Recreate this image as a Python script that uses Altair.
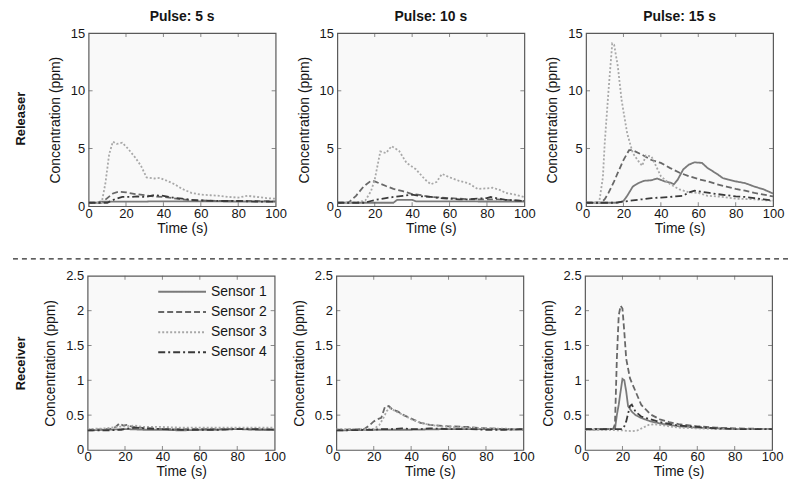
import altair as alt
import pandas as pd

F = "Liberation Sans"
INK = "#151515"
FRAME = "#5a5a5a"

XT = [0, 20, 40, 60, 80, 100]
YT_TOP = [0, 5, 10, 15]
YT_BOT = [0, 0.5, 1, 1.5, 2, 2.5]
SENSORS = ["Sensor 1", "Sensor 2", "Sensor 3", "Sensor 4"]
COLORS = ["#7a7a7a", "#686868", "#a8a8a8", "#3a3a3a"]
DASHES = [[1, 0], [6, 3], [2, 2], [7, 3, 2, 3]]
PULSES = ["Pulse: 5 s", "Pulse: 10 s", "Pulse: 15 s"]
ROWS = ["Releaser", "Receiver"]

# ---------- Releaser, pulse 5 s ----------
R5_S1_T = [0, 5, 6, 30, 35, 100]
R5_S1_C = [0.3, 0.3, 0.4, 0.4, 0.42, 0.4]
R5_S2_T = [0, 7, 10, 13, 16, 20, 25, 30, 35, 40, 45, 50, 55, 60, 70, 80, 90, 100]
R5_S2_C = [0.3, 0.3, 0.7, 1.1, 1.25, 1.2, 1.05, 0.95, 0.85, 0.8, 0.7, 0.6, 0.5, 0.5, 0.45, 0.45, 0.45, 0.42]
R5_S3_T = [0, 7, 9, 11, 13, 15, 18, 21, 25, 28, 31, 35, 38, 42, 46, 50, 55, 60, 65, 70, 75, 80, 85, 90, 95, 100]
R5_S3_C = [0.3, 0.3, 2.0, 4.5, 5.6, 5.4, 5.5, 5.0, 4.2, 3.5, 2.5, 2.4, 2.45, 2.2, 1.9, 1.5, 1.15, 1.0, 0.95, 0.9, 0.8, 0.75, 0.9, 0.8, 0.7, 0.65]
R5_S4_T = [0, 10, 14, 18, 22, 26, 30, 35, 40, 45, 50, 55, 60, 70, 80, 90, 100]
R5_S4_C = [0.3, 0.3, 0.6, 0.8, 0.8, 0.85, 0.8, 0.95, 0.9, 0.75, 0.65, 0.55, 0.5, 0.45, 0.45, 0.4, 0.4]

# ---------- Releaser, pulse 10 s ----------
R10_S1_T = [0, 30, 32, 40, 42, 100]
R10_S1_C = [0.3, 0.3, 0.55, 0.55, 0.42, 0.4]
R10_S2_T = [0, 6, 10, 14, 18, 20, 23, 26, 30, 35, 40, 45, 50, 55, 60, 65, 70, 75, 80, 85, 90, 100]
R10_S2_C = [0.3, 0.3, 0.9, 1.7, 2.2, 2.15, 1.95, 1.75, 1.5, 1.3, 1.05, 0.95, 0.8, 0.75, 0.7, 0.65, 0.6, 0.6, 0.6, 0.6, 0.55, 0.45]
R10_S3_T = [0, 10, 15, 18, 20, 23, 26, 29, 33, 37, 42, 47, 50, 53, 56, 60, 65, 70, 75, 80, 83, 87, 90, 95, 100]
R10_S3_C = [0.3, 0.3, 0.5, 1.3, 2.3, 4.75, 4.6, 5.2, 4.8, 3.75, 3.2, 2.3, 1.9, 2.1, 2.8, 2.5, 2.2, 2.0, 1.5, 1.55, 1.6, 1.4, 1.15, 1.0, 0.8]
R10_S4_T = [0, 15, 18, 22, 26, 30, 35, 40, 45, 50, 55, 60, 65, 70, 75, 80, 82, 85, 90, 100]
R10_S4_C = [0.3, 0.3, 0.45, 0.6, 0.7, 0.8, 0.9, 1.0, 0.85, 0.8, 0.7, 0.65, 0.6, 0.6, 0.65, 0.7, 0.8, 0.7, 0.55, 0.45]

# ---------- Releaser, pulse 15 s ----------
R15_S1_T = [0, 17, 20, 22, 25, 28, 31, 35, 38, 42, 45, 47, 49, 52, 55, 58, 62, 65, 68, 70, 73, 76, 80, 85, 90, 95, 100]
R15_S1_C = [0.3, 0.3, 0.45, 0.9, 1.7, 2.0, 2.2, 2.25, 2.4, 2.15, 2.05, 1.9, 2.3, 3.2, 3.6, 3.8, 3.75, 3.3, 3.0, 2.8, 2.45, 2.3, 2.15, 2.0, 1.7, 1.45, 1.1]
R15_S2_T = [0, 8, 10, 12, 15, 17, 20, 23, 25, 30, 35, 40, 45, 50, 55, 60, 65, 70, 75, 80, 85, 90, 95, 100]
R15_S2_C = [0.3, 0.3, 0.6, 1.15, 2.15, 2.9, 4.0, 4.85, 4.85, 4.45, 4.0, 3.75, 3.3, 2.9, 2.6, 2.35, 2.15, 1.9, 1.7, 1.5, 1.35, 1.15, 1.0, 0.85]
R15_S3_T = [0, 7, 9, 10, 12, 14, 15, 17, 19, 22, 25, 28, 30, 32, 35, 40, 45, 50, 55, 60, 65, 70, 80, 90, 100]
R15_S3_C = [0.3, 0.3, 2.5, 5.5, 10.0, 14.1, 14.0, 12.1, 9.2, 6.3, 4.6, 3.9, 3.5, 4.4, 4.3, 2.6, 1.9, 1.45, 1.2, 1.15, 0.9, 0.85, 0.65, 0.6, 0.45]
R15_S4_T = [0, 15, 20, 25, 30, 35, 40, 45, 48, 52, 55, 58, 62, 66, 70, 75, 80, 85, 90, 95, 100]
R15_S4_C = [0.3, 0.3, 0.4, 0.5, 0.6, 0.7, 0.75, 0.8, 0.85, 0.9, 1.2, 1.35, 1.25, 1.15, 1.05, 0.95, 0.85, 0.8, 0.7, 0.6, 0.5]

# ---------- Receiver, pulse 5 s ----------
C5_S1_T = [0, 10, 20, 30, 40, 50, 60, 70, 80, 90, 100]
C5_S1_C = [0.28, 0.29, 0.30, 0.29, 0.29, 0.28, 0.29, 0.29, 0.30, 0.29, 0.29]
C5_S2_T = [0, 12, 15, 17, 19, 21, 24, 28, 32, 40, 50, 60, 80, 100]
C5_S2_C = [0.29, 0.3, 0.33, 0.38, 0.35, 0.36, 0.33, 0.32, 0.31, 0.3, 0.3, 0.3, 0.3, 0.29]
C5_S3_T = [0, 10, 15, 20, 25, 30, 40, 50, 60, 70, 80, 90, 100]
C5_S3_C = [0.3, 0.31, 0.33, 0.34, 0.35, 0.33, 0.33, 0.32, 0.32, 0.32, 0.32, 0.32, 0.32]
C5_S4_T = [0, 10, 18, 22, 26, 30, 40, 50, 60, 70, 80, 90, 100]
C5_S4_C = [0.28, 0.28, 0.29, 0.31, 0.32, 0.31, 0.3, 0.29, 0.29, 0.29, 0.3, 0.3, 0.29]

# ---------- Receiver, pulse 10 s ----------
C10_S1_T = [0, 20, 40, 60, 80, 100]
C10_S1_C = [0.28, 0.29, 0.29, 0.3, 0.3, 0.29]
C10_S2_T = [0, 15, 18, 20, 22, 24, 26, 28, 30, 33, 36, 40, 45, 50, 55, 60, 70, 80, 90, 100]
C10_S2_C = [0.29, 0.3, 0.36, 0.41, 0.44, 0.46, 0.62, 0.63, 0.58, 0.55, 0.5, 0.45, 0.39, 0.36, 0.35, 0.34, 0.33, 0.31, 0.3, 0.3]
C10_S3_T = [0, 20, 23, 25, 27, 29, 32, 36, 40, 45, 50, 55, 60, 70, 80, 100]
C10_S3_C = [0.3, 0.3, 0.36, 0.45, 0.56, 0.6, 0.55, 0.5, 0.44, 0.39, 0.36, 0.34, 0.33, 0.32, 0.31, 0.3]
C10_S4_T = [0, 20, 25, 30, 35, 40, 45, 50, 60, 70, 80, 90, 100]
C10_S4_C = [0.28, 0.29, 0.3, 0.3, 0.31, 0.3, 0.3, 0.31, 0.3, 0.3, 0.29, 0.29, 0.3]

# ---------- Receiver, pulse 15 s ----------
C15_S1_T = [0, 16, 17, 18, 19, 20, 21, 22, 23, 25, 27, 30, 35, 40, 50, 60, 70, 80, 100]
C15_S1_C = [0.29, 0.3, 0.5, 0.65, 0.84, 1.02, 1.0, 0.84, 0.63, 0.55, 0.5, 0.46, 0.41, 0.38, 0.34, 0.32, 0.31, 0.3, 0.3]
C15_S2_T = [0, 15, 16, 17, 18, 19, 20, 21, 22, 24, 27, 30, 35, 40, 45, 50, 60, 70, 80, 100]
C15_S2_C = [0.3, 0.3, 0.37, 1.31, 1.93, 2.07, 2.03, 1.69, 1.31, 1.03, 0.84, 0.65, 0.51, 0.44, 0.4, 0.37, 0.34, 0.32, 0.31, 0.3]
C15_S3_T = [0, 10, 20, 25, 28, 31, 34, 37, 40, 45, 50, 60, 70, 80, 100]
C15_S3_C = [0.29, 0.29, 0.28, 0.27, 0.28, 0.32, 0.36, 0.37, 0.36, 0.34, 0.32, 0.31, 0.3, 0.3, 0.3]
C15_S4_T = [0, 20, 21, 22, 23, 24, 25, 27, 30, 35, 40, 50, 60, 70, 80, 100]
C15_S4_C = [0.3, 0.3, 0.34, 0.41, 0.52, 0.63, 0.65, 0.55, 0.48, 0.44, 0.4, 0.35, 0.33, 0.31, 0.3, 0.3]

W, H = 188, 174
HB = 175


def frame():
    return alt.ViewBackground(stroke=FRAME, strokeWidth=1.2, fill="#f9f9f9")


def blank():
    return alt.ViewBackground(stroke="transparent", fill="transparent")


def panel(series, ymax, yticks, h, title=None, legend=False):
    rows = []
    for name, (ts, cs) in zip(SENSORS, series):
        for t, c in zip(ts, cs):
            rows.append({"t": t, "c": c, "sensor": name})
    df = pd.DataFrame(rows)
    xs = alt.Scale(domain=[0, 100], nice=False, zero=False)
    ys = alt.Scale(domain=[0, ymax], nice=False, zero=False)
    xax = alt.Axis(values=XT, title="Time (s)")
    yax = alt.Axis(values=yticks, format="~g", title="Concentration (ppm)")
    if legend:
        leg = alt.Legend(orient="none", legendX=70, legendY=9, title=None,
                         symbolType="stroke", symbolSize=2304, symbolStrokeWidth=2,
                         clipHeight=14, labelFont=F, labelFontSize=14, labelColor=INK,
                         labelOffset=4, rowPadding=6.3, padding=0)
    else:
        leg = None
    lines = alt.Chart(df).mark_line(strokeWidth=1.8, clip=True).encode(
        x=alt.X("t:Q", scale=xs, axis=xax),
        y=alt.Y("c:Q", scale=ys, axis=yax),
        color=alt.Color("sensor:N", scale=alt.Scale(domain=SENSORS, range=COLORS), legend=leg),
        strokeDash=alt.StrokeDash("sensor:N", scale=alt.Scale(domain=SENSORS, range=DASHES), legend=leg),
    )
    xtd = pd.DataFrame({"t": XT[1:-1]})
    ytd = pd.DataFrame({"c": yticks[1:-1]})
    tk = dict(size=4, thickness=1, color=FRAME)
    xb = alt.Chart(xtd).mark_tick(**tk).encode(x=alt.X("t:Q", scale=xs, axis=xax), y=alt.value(h - 2))
    xtp = alt.Chart(xtd).mark_tick(**tk).encode(x=alt.X("t:Q", scale=xs, axis=xax), y=alt.value(2))
    yl = alt.Chart(ytd).mark_tick(**tk).encode(y=alt.Y("c:Q", scale=ys, axis=yax), x=alt.value(2))
    yr = alt.Chart(ytd).mark_tick(**tk).encode(y=alt.Y("c:Q", scale=ys, axis=yax), x=alt.value(W - 2))
    ch = alt.layer(lines, xb, xtp, yl, yr).properties(width=W, height=h, view=frame())
    if title:
        ch = ch.properties(title=alt.TitleParams(title, offset=3))
    return ch


def row_label(text, w, h, y):
    return alt.Chart(alt.Data(values=[{}])).mark_text(
        text=text, angle=270, fontSize=13, fontWeight="bold", font=F, color=INK
    ).encode(x=alt.value(12), y=alt.value(y)).properties(width=w, height=h, view=blank())


r5 = panel([(R5_S1_T, R5_S1_C), (R5_S2_T, R5_S2_C), (R5_S3_T, R5_S3_C), (R5_S4_T, R5_S4_C)], 15, YT_TOP, H, PULSES[0])
r10 = panel([(R10_S1_T, R10_S1_C), (R10_S2_T, R10_S2_C), (R10_S3_T, R10_S3_C), (R10_S4_T, R10_S4_C)], 15, YT_TOP, H, PULSES[1])
r15 = panel([(R15_S1_T, R15_S1_C), (R15_S2_T, R15_S2_C), (R15_S3_T, R15_S3_C), (R15_S4_T, R15_S4_C)], 15, YT_TOP, H, PULSES[2])
c5 = panel([(C5_S1_T, C5_S1_C), (C5_S2_T, C5_S2_C), (C5_S3_T, C5_S3_C), (C5_S4_T, C5_S4_C)], 2.5, YT_BOT, HB, None, legend=True)
c10 = panel([(C10_S1_T, C10_S1_C), (C10_S2_T, C10_S2_C), (C10_S3_T, C10_S3_C), (C10_S4_T, C10_S4_C)], 2.5, YT_BOT, HB)
c15 = panel([(C15_S1_T, C15_S1_C), (C15_S2_T, C15_S2_C), (C15_S3_T, C15_S3_C), (C15_S4_T, C15_S4_C)], 2.5, YT_BOT, HB)

top = alt.hconcat(row_label(ROWS[0], 29, 180, 86), r5, r10, r15, spacing=8).resolve_scale(
    color="independent", strokeDash="independent")
bot = alt.hconcat(row_label(ROWS[1], 28, 170, 88), c5, c10, c15, spacing=5).resolve_scale(
    color="independent", strokeDash="independent")

sep = alt.Chart(alt.Data(values=[{}])).mark_rule(strokeDash=[5, 4], color="#2a2a2a", strokeWidth=1.3).encode(
    x=alt.value(4), x2=alt.value(784), y=alt.value(22)
).properties(width=784, height=31, view=blank())

chart = alt.vconcat(top, sep, bot, spacing=0).resolve_scale(
    color="independent", strokeDash="independent"
).properties(padding=0).configure_view(stroke=None).configure_axis(
    domain=False, ticks=False, tickSize=0, grid=False, labelFont=F, titleFont=F,
    labelFontSize=13, titleFontSize=14, labelColor=INK, titleColor=INK,
    titleFontWeight="normal", labelOverlap=False, labelFlush=False
).configure_axisX(labelPadding=1, titlePadding=1).configure_axisY(
    labelPadding=4, titlePadding=8
).configure_title(font=F, fontSize=14, fontWeight="bold", color=INK, anchor="middle")

chart.save("out.html", embed_options={"renderer": "svg", "actions": False})
